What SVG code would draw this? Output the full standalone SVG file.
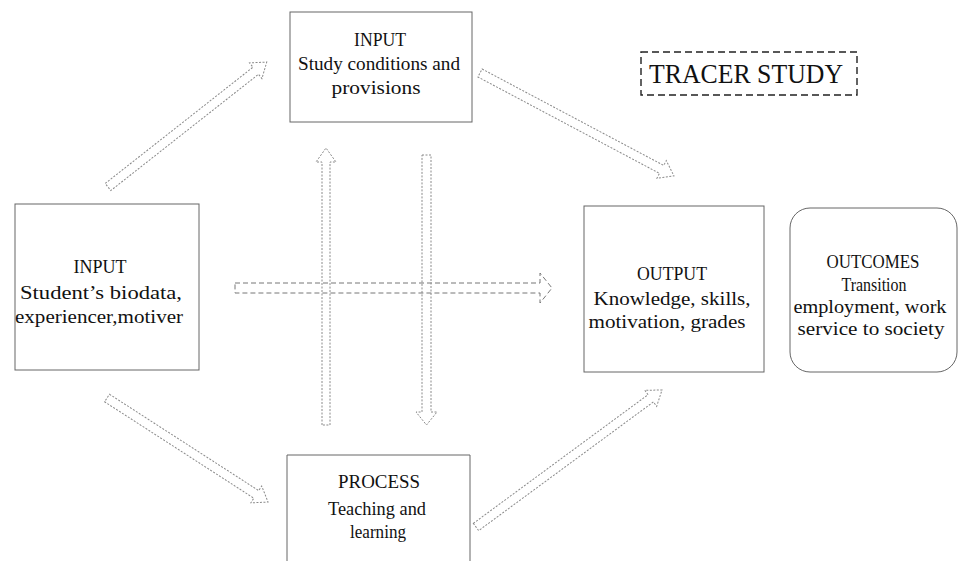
<svg xmlns="http://www.w3.org/2000/svg" width="960" height="561" viewBox="0 0 960 561">
<style>
  .box { fill: none; stroke: #666; stroke-width: 1; }
  .t { font-family: "Liberation Serif", "Times New Roman", serif; font-size: 19px; fill: #111; text-anchor: middle; }
  .arr { fill: none; stroke: #8a8a8a; stroke-width: 1; stroke-dasharray: 2 1.5; }
  .harr { fill: none; stroke: #777; stroke-width: 1; stroke-dasharray: 5 3; }
  .tracer { fill: none; stroke: #222; stroke-width: 1.4; stroke-dasharray: 7 4; }
</style>
<rect width="960" height="561" fill="#fff"/>

<g id="connectors">
  <polygon class="arr" transform="translate(108,187) rotate(-38.2)" points="0,-4.5 188,-4.5 188,-10 202,0 188,10 188,4.5 0,4.5"/>
  <polygon class="arr" transform="translate(480,73) rotate(27.96)" points="0,-4.5 205.6,-4.5 205.6,-10 219.6,0 205.6,10 205.6,4.5 0,4.5"/>
  <polygon class="arr" transform="translate(107,398) rotate(32.86)" points="0,-4.5 177.7,-4.5 177.7,-10 191.7,0 177.7,10 177.7,4.5 0,4.5"/>
  <polygon class="arr" transform="translate(476,527) rotate(-36.37)" points="0,-4.5 217,-4.5 217,-10 231,0 217,10 217,4.5 0,4.5"/>
  <polygon class="harr" points="235,283 540,283 540,273 552,288 540,303 540,293 235,293"/>
  <polygon class="arr" points="322,425 322,162 316,162 326,148 336,162 330,162 330,425"/>
  <polygon class="arr" points="422,155 431,155 431,412 437,412 426.5,425 416,412 422,412"/>
</g>

<g id="input-conditions">
  <rect class="box" x="290" y="12" width="182" height="110"/>
  <text class="t" x="380" y="46" textLength="52" lengthAdjust="spacingAndGlyphs">INPUT</text>
  <text class="t" x="379" y="70" textLength="162" lengthAdjust="spacingAndGlyphs">Study conditions and</text>
  <text class="t" x="376" y="94" textLength="89" lengthAdjust="spacingAndGlyphs">provisions</text>
</g>

<g id="tracer-study">
  <rect class="tracer" x="641" y="52" width="216" height="43"/>
  <text x="746" y="83" font-family="Liberation Serif, Times New Roman, serif" font-size="28" fill="#111" text-anchor="middle" textLength="194" lengthAdjust="spacingAndGlyphs">TRACER STUDY</text>
</g>

<g id="input-student">
  <rect class="box" x="15" y="204" width="184" height="166"/>
  <text class="t" x="100" y="273" textLength="53" lengthAdjust="spacingAndGlyphs">INPUT</text>
  <text class="t" x="101" y="299" textLength="162" lengthAdjust="spacingAndGlyphs">Student’s biodata,</text>
  <text class="t" x="99" y="323" textLength="168" lengthAdjust="spacingAndGlyphs">experiencer,motiver</text>
</g>

<g id="output">
  <rect class="box" x="584" y="206" width="180" height="166"/>
  <text class="t" x="672" y="280" textLength="70" lengthAdjust="spacingAndGlyphs">OUTPUT</text>
  <text class="t" x="672" y="305" textLength="157" lengthAdjust="spacingAndGlyphs">Knowledge, skills,</text>
  <text class="t" x="667" y="328" textLength="157" lengthAdjust="spacingAndGlyphs">motivation, grades</text>
</g>

<g id="outcomes">
  <rect class="box" x="790" y="208" width="167" height="164" rx="20" ry="20"/>
  <text class="t" x="873" y="268" textLength="93" lengthAdjust="spacingAndGlyphs">OUTCOMES</text>
  <text class="t" x="874" y="291" textLength="65" lengthAdjust="spacingAndGlyphs">Transition</text>
  <text class="t" x="870" y="313" textLength="153" lengthAdjust="spacingAndGlyphs">employment, work</text>
  <text class="t" x="871" y="335" textLength="147" lengthAdjust="spacingAndGlyphs">service to society</text>
</g>

<g id="process">
  <path class="box" d="M287,562 L287,455 L470,455 L470,562"/>
  <text class="t" x="379" y="488" textLength="82" lengthAdjust="spacingAndGlyphs">PROCESS</text>
  <text class="t" x="377" y="515" textLength="98" lengthAdjust="spacingAndGlyphs">Teaching and</text>
  <text class="t" x="378" y="538" textLength="56" lengthAdjust="spacingAndGlyphs">learning</text>
</g>
</svg>
